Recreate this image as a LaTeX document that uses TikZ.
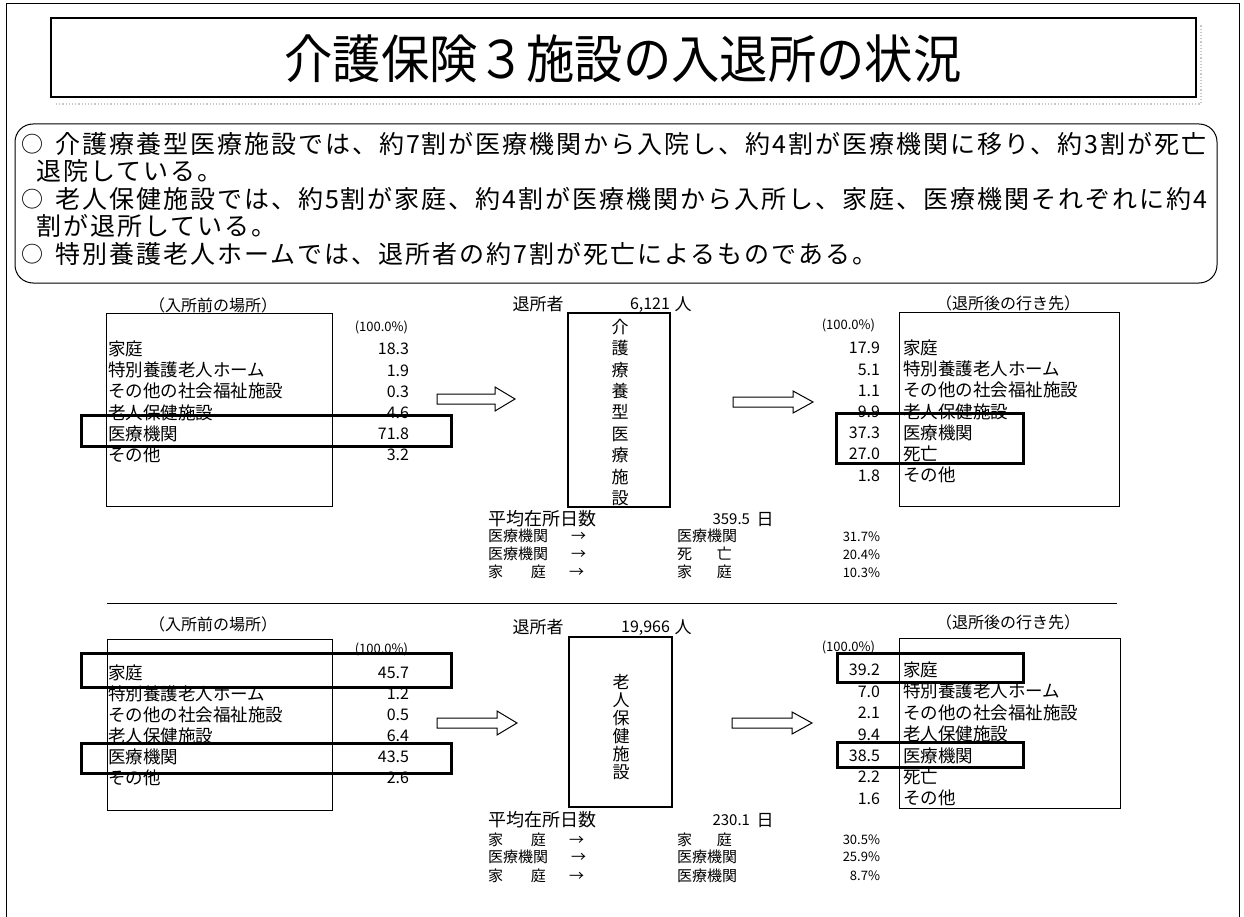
\documentclass[tikz,border=0pt]{standalone}
\usepackage{fontspec}
\setmainfont{Noto Sans CJK JP}
\newfontfamily\sumfont{Noto Sans CJK JP}[LetterSpace=8]
\begin{document}
\begin{tikzpicture}[x=1pt,y=-1pt,
  every node/.style={inner sep=0pt, outer sep=0pt},
  thin line/.style={line width=1pt},
  hl/.style={draw, line width=3pt},
  cbox/.style={draw, line width=2.5pt},
  blockarrow/.style={draw, line width=1pt, fill=white},
  sumtxt/.style={font=\sumfont\fontsize{25}{28}\selectfont, text height=21.5pt, text depth=3pt, anchor=west},
  f18/.style={font=\fontsize{18}{21}\selectfont, text height=15.5pt, text depth=2.2pt},
  f17/.style={font=\fontsize{17}{20}\selectfont, text height=14.6pt, text depth=2pt},
  f16/.style={font=\fontsize{16}{19}\selectfont, text height=13.8pt, text depth=1.9pt},
  f15/.style={font=\fontsize{15}{18}\selectfont, text height=12.9pt, text depth=1.8pt},
  f13/.style={font=\fontsize{13}{16}\selectfont, text height=11.2pt, text depth=1.6pt},
  lbl/.style={font=\fontsize{17.5}{20}\selectfont, text height=15pt, text depth=2.1pt, anchor=west},
  val/.style={f16, anchor=east},
  pct/.style={f13, anchor=east},
  circ/.style={font=\fontsize{22}{24}\selectfont, text height=18.9pt, text depth=2.6pt},
]
\useasboundingbox (0,0) rectangle (1244,917);
\fill[white] (0,0) rectangle (1244,917);

% outer frame (open at bottom)
\draw[thin line] (6,917) -- (6,4) -- (1239,4) -- (1239,917);

% title
\draw[gray!45, dotted, line width=1.2pt] (56,104) -- (1201,104) -- (1201,24);
\draw[line width=2.5pt] (51,18) rectangle (1196,97);
\node[font=\fontsize{52}{60}\selectfont, text height=44.7pt, text depth=6.2pt, xscale=0.93] (title) at (623,59) {介護保険３施設の入退所の状況};

% summary
\draw[thin line, rounded corners=18pt] (15,124) rectangle (1217,283);
\node[circ] (c1) at (32,144) {○};
\node[sumtxt] (s1) at (55,144) {介護療養型医療施設では、約7割が医療機関から入院し、約4割が医療機関に移り、約3割が死亡};
\node[sumtxt] (s2) at (36,171) {退院している。};
\node[circ] (c2) at (32,199) {○};
\node[sumtxt] (s3) at (55,199) {老人保健施設では、約5割が家庭、約4割が医療機関から入所し、家庭、医療機関それぞれに約4};
\node[sumtxt] (s4) at (36,226) {割が退所している。};
\node[circ] (c3) at (32,254) {○};
\node[sumtxt] (s5) at (55,254) {特別養護老人ホームでは、退所者の約7割が死亡によるものである。};

% ================= upper section =================
% left
\node[f16] (h1) at (213,306) {（入所前の場所）};
\draw[thin line] (106,313) rectangle (332,506);
\node[pct] (p1) at (408,327) {(100.0\%)};
\foreach \v/\t [count=\i from 0] in {18.3/家庭,1.9/特別養護老人ホーム,0.3/その他の社会福祉施設,4.6/老人保健施設,71.8/医療機関,3.2/その他}{
  \node[val] (b\i) at (409,349+21.2*\i) {\v};
  \node[lbl] (a\i) at (108,349+21.2*\i) {\t};
}
\draw[hl] (81,415) rectangle (451,446);

% arrows
\draw[blockarrow] (437,394) -- (495,394) -- (495,387) -- (515,399) -- (495,411) -- (495,404) -- (437,404) -- cycle;
\draw[blockarrow] (733,397) -- (793,397) -- (793,391) -- (813,402) -- (793,413) -- (793,407) -- (733,407) -- cycle;

% center
\node[f17] (t1) at (538,304) {退所者};
\node[f16, anchor=east] (n1) at (670,304) {6,121};
\node[f17] (u1) at (683,304) {人};
\draw[cbox] (568,313) rectangle (670,507);
\foreach \c [count=\i from 0] in {介,護,療,養,型,医,療,施,設}
  \node[f17] (va\i) at (620,327+21.4*\i) {\c};
\node[f18, anchor=west] (d1) at (488,519) {平均在所日数};
\node[f15, anchor=east] (d1v) at (750,519) {359.5};
\node[f17] (d1u) at (765,519) {日};
\node[f15, anchor=west] (e1) at (488,536) {医療機関\hspace{23pt}→};
\node[f15, anchor=west] (e1b) at (677,536) {医療機関};
\node[pct] (e1c) at (880,537) {31.7\%};
\node[f15, anchor=west] (e2) at (488,554) {医療機関\hspace{23pt}→};
\node[f15, anchor=west] (e2b) at (677,554) {死\hspace{25pt}亡};
\node[pct] (e2c) at (880,555) {20.4\%};
\node[f15, anchor=west] (e3) at (488,572) {家\hspace{28pt}庭\hspace{23pt}→};
\node[f15, anchor=west] (e3b) at (677,572) {家\hspace{25pt}庭};
\node[pct] (e3c) at (880,573) {10.3\%};

% right
\node[f16] (h2) at (1008,304) {（退所後の行き先）};
\draw[thin line] (899,312) rectangle (1119,506);
\node[pct] (p2) at (875,325) {(100.0\%)};
\foreach \v/\t [count=\i from 0] in {17.9/家庭,5.1/特別養護老人ホーム,1.1/その他の社会福祉施設,9.9/老人保健施設,37.3/医療機関,27.0/死亡,1.8/その他}{
  \node[val] (rv\i) at (880,348+21.2*\i) {\v};
  \node[lbl] (rl\i) at (903,348+21.2*\i) {\t};
}
\draw[hl] (836,413) rectangle (1023,463);

% divider
\draw[line width=0.8pt] (107,603) -- (1117,603);

% ================= lower section =================
\node[f16] (h3) at (213,625) {（入所前の場所）};
\draw[thin line] (107,639) rectangle (332,810);
\node[pct] (p3) at (408,649) {(100.0\%)};
\foreach \v/\t [count=\i from 0] in {45.7/家庭,1.2/特別養護老人ホーム,0.5/その他の社会福祉施設,6.4/老人保健施設,43.5/医療機関,2.6/その他}{
  \node[val] (lv\i) at (409,673+21*\i) {\v};
  \node[lbl] (ll\i) at (108,673+21*\i) {\t};
}
\draw[hl] (81,653) rectangle (451,687);
\draw[hl] (81,743) rectangle (451,773);

\draw[blockarrow] (437,718) -- (497,718) -- (497,711) -- (517,723) -- (497,735) -- (497,728) -- (437,728) -- cycle;
\draw[blockarrow] (732,718) -- (792,718) -- (792,712) -- (812,723) -- (792,734) -- (792,728) -- (732,728) -- cycle;

\node[f17] (t2) at (538,627) {退所者};
\node[f16, anchor=east] (n2) at (670,627) {19,966};
\node[f17] (u2) at (683,627) {人};
\draw[cbox] (569,637) rectangle (672,807);
\foreach \c [count=\i from 0] in {老,人,保,健,施,設}
  \node[f17] (vb\i) at (621,682+18*\i) {\c};
\node[f18, anchor=west] (d2) at (488,820) {平均在所日数};
\node[f15, anchor=east] (d2v) at (750,820) {230.1};
\node[f17] (d2u) at (765,820) {日};
\node[f15, anchor=west] (g1) at (488,840) {家\hspace{28pt}庭\hspace{23pt}→};
\node[f15, anchor=west] (g1b) at (677,840) {家\hspace{25pt}庭};
\node[pct] (g1c) at (880,840) {30.5\%};
\node[f15, anchor=west] (g2) at (488,857) {医療機関\hspace{23pt}→};
\node[f15, anchor=west] (g2b) at (677,857) {医療機関};
\node[pct] (g2c) at (880,857) {25.9\%};
\node[f15, anchor=west] (g3) at (488,876) {家\hspace{28pt}庭\hspace{23pt}→};
\node[f15, anchor=west] (g3b) at (677,876) {医療機関};
\node[pct] (g3c) at (880,876) {8.7\%};

\node[f16] (h4) at (1008,623) {（退所後の行き先）};
\draw[thin line] (899,638) rectangle (1120,808);
\node[pct] (p4) at (875,647) {(100.0\%)};
\foreach \v/\t [count=\i from 0] in {39.2/家庭,7.0/特別養護老人ホーム,2.1/その他の社会福祉施設,9.4/老人保健施設,38.5/医療機関,2.2/死亡,1.6/その他}{
  \node[val] (qv\i) at (880,670+21.4*\i) {\v};
  \node[lbl] (ql\i) at (903,670+21.4*\i) {\t};
}
\draw[hl] (837,653) rectangle (1023,682);
\draw[hl] (837,742) rectangle (1023,767);
\end{tikzpicture}
\end{document}
